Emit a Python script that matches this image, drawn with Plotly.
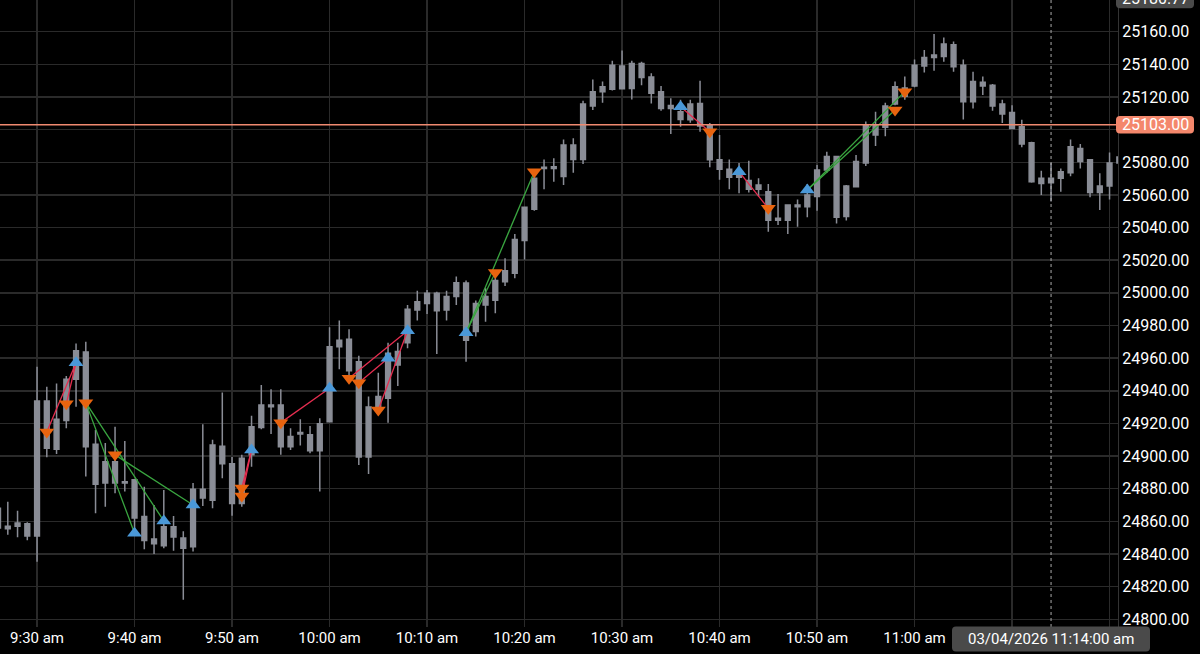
import pandas as pd
import plotly.graph_objects as go

# ---------------- data ----------------
times = pd.date_range("2026-03-04 09:26", "2026-03-04 11:21", freq="1min")

open_ = [24868, 24857, 24857, 24858.5, 24851, 24933.75, 24904.25, 24921.75, 24947, 24963.75,
         24907.25, 24883.5, 24896.5, 24884.25, 24885.5, 24863, 24849.25, 24845, 24856.75, 24849.75,
         24844.5, 24874.25, 24873, 24906, 24895.25, 24871, 24900.75, 24917.5, 24931.25, 24931.25,
         24905.75, 24914.5, 24913, 24903.25,
         24921, 24967, 24971.5, 24957.75, 24899.5, 24930.25, 24935.5, 24964, 24969.5, 24989.5,
         24993.5, 24999.75, 24989.5, 24997.75, 25006, 24976.25, 24992.5, 24995.5, 25006.75, 25012,
         25032, 25051.25, 25076.25, 25077.25, 25071.25, 25090.5, 25081.75, 25114.5, 25123.25, 25124.75,
         25139, 25125.25, 25140.5, 25132.25, 25123.25, 25113, 25111, 25106, 25116, 25102.75,
         25081.5, 25075.75, 25070.75, 25068.75, 25063.5, 25062, 25044.5, 25044.5, 25053.75, 25052.75,
         25059, 25075.25, 25083.5, 25046.75, 25065, 25079.5, 25102.75, 25101.5, 25115.75, 25125.5,
         25126.75, 25139, 25144.25, 25144.75, 25152, 25139.5, 25117, 25129, 25127.25, 25115.75,
         25110.5, 25101.75, 25092, 25067, 25070.25, 25070.25, 25073.5, 25088.5, 25081.5, 25061.5,
         25065.5, 25079.5]
high = [24873, 24872, 24866.5, 24859.5, 24954.75, 24942.5, 24944.5, 24949, 24969, 24970,
        24916, 24908, 24918, 24909.25, 24886, 24881.25, 24870, 24879.25, 24863.25, 24854,
        24883.5, 24919.5, 24910, 24939, 24899.5, 24900.75, 24924.75, 24943.5, 24941, 24941,
        24917, 24922.5, 24918.5, 24923.25,
        24979, 24983, 24977.75, 24961.5, 24936.5, 24951, 24969.5, 24969.5, 24992.5, 25001.25,
        25001.75, 25000.75, 25001.25, 25010, 25007.5, 24995.25, 25002.75, 25010.25, 25021.25, 25036,
        25052.5, 25074.25, 25081.75, 25082.5, 25094, 25094.75, 25117.75, 25130.75, 25129.5, 25142.25,
        25148.5, 25142.25, 25141.5, 25134.5, 25126.75, 25119.25, 25118.25, 25118.25, 25130, 25104,
        25096.75, 25081.75, 25079.5, 25081, 25070.25, 25066.75, 25060.5, 25053.75, 25057.25, 25066.75,
        25078.25, 25086.5, 25083.5, 25066, 25084.5, 25105, 25111, 25116.5, 25129.5, 25132.5,
        25143, 25148.75, 25158.5, 25156.5, 25154, 25143, 25135.5, 25132.5, 25128, 25118.25,
        25115, 25106, 25092.5, 25074.75, 25079.5, 25076.25, 25094, 25091.25, 25081.75, 25073.25,
        25086, 25087.5]
low = [24853, 24851.75, 24850.25, 24848.5, 24835.25, 24899.25, 24901.25, 24917, 24930.25, 24887.5,
       24865, 24869, 24877.25, 24878.25, 24854.75, 24843, 24840, 24843.5, 24842, 24812,
       24841.5, 24869.5, 24868, 24886.5, 24863.5, 24869, 24893.5, 24916.5, 24913.5, 24900.75,
       24903.75, 24906.5, 24901.75, 24878.25,
       24921, 24953.25, 24947.75, 24894.5, 24889, 24926.25, 24920.5, 24943, 24966, 24983,
       24987, 24962.5, 24983, 24992.5, 24957.75, 24973.25, 24982.25, 24987.5, 25004.25, 25009,
       25020.5, 25050.25, 25063.5, 25068, 25066, 25073.5, 25079, 25112, 25116.5, 25124,
       25124.75, 25118.5, 25127.25, 25116, 25111.5, 25097.25, 25101.75, 25104.25, 25098.75, 25077,
       25069.25, 25063.5, 25061, 25061.5, 25059, 25037.5, 25041.5, 25036, 25040.5, 25046.25,
       25050.25, 25073.5, 25042.5, 25044.25, 25065, 25077.75, 25090, 25096, 25115, 25118.25,
       25126, 25135, 25136, 25141.5, 25135.5, 25106.25, 25113, 25121.25, 25111.5, 25104,
       25100.25, 25089.25, 25067.5, 25060, 25056, 25062, 25071.5, 25076.25, 25058.5, 25050.75,
       25057.25, 25076.5]
close = [24856, 24855.5, 24859, 24851, 24933.75, 24904.75, 24922.5, 24947, 24964.5, 24905.75,
         24882.75, 24896.5, 24883.5, 24883.5, 24862, 24848.25, 24846.25, 24856.75, 24850.5, 24843.5,
         24879.75, 24879.75, 24906.75, 24895.25, 24871, 24898.75, 24918, 24931.25, 24930.25, 24905.75,
         24912, 24913.5, 24903.25, 24919.75,
         24967, 24971, 24952.25, 24899.5, 24930, 24936.5, 24963, 24955.75, 24990, 24994.5,
         24999.75, 24989, 24997.75, 25006.25, 24971, 24993.5, 24997.75, 25007.5, 25013.5, 25032.75,
         25052.5, 25070.25, 25077, 25076.25, 25090.5, 25081.75, 25115.75, 25123.25, 25126.25, 25139.5,
         25125, 25140.5, 25132, 25122.25, 25113, 25114.75, 25106.25, 25115.75, 25102.25, 25081.5,
         25075.75, 25070.75, 25073.25, 25063.5, 25066, 25044.5, 25045.75, 25053.75, 25052.75, 25060,
         25075.25, 25083.5, 25046.25, 25065.5, 25080.5, 25102.75, 25096.75, 25114.5, 25126.25, 25120.5,
         25139.5, 25144.25, 25145.75, 25152.5, 25138.5, 25117, 25129.5, 25126.75, 25114.5, 25109.5,
         25100.75, 25091.25, 25068, 25070.25, 25067.5, 25074.25, 25089.5, 25080.5, 25061.5, 25065.5,
         25079.5, 25083.25]

# signal markers
sell_times = ["09:31", "09:33", "09:35", "09:38", "09:51", "09:51", "09:55", "10:02", "10:03",
              "10:05", "10:17", "10:21", "10:39", "10:45", "10:58", "10:59"]
sell_prices = [24914.75, 24932, 24932.75, 24900.75, 24880.5, 24875.5, 24920.5, 24947.75, 24945,
               24928.25, 25012.5, 25074.25, 25098.75, 25051.75, 25112, 25123.25]
buy_times = ["09:34", "09:40", "09:43", "09:46", "09:52", "10:00", "10:06", "10:08", "10:14",
             "10:36", "10:42", "10:49"]
buy_prices = [24957.25, 24852.75, 24860.25, 24870, 24903.75, 24941.5, 24960, 24976.75, 24975.5,
              25114, 25074.25, 25063]

# trades: entry -> exit, result
trade_entry_times = ["09:31", "09:33", "09:35", "09:35", "09:38", "09:51", "09:51", "09:55", "10:02",
                     "10:03", "10:05", "10:14", "10:14", "10:36", "10:42", "10:49", "10:49"]
trade_entry_prices = [24914.75, 24932, 24932.75, 24932.75, 24900.75, 24880.5, 24875.5, 24920.5,
                      24947.75, 24945, 24928.25, 24975.5, 24975.5, 25114, 25074.25, 25063, 25063]
trade_exit_times = ["09:34", "09:34", "09:40", "09:43", "09:46", "09:52", "09:52", "10:00", "10:08",
                    "10:06", "10:08", "10:17", "10:21", "10:39", "10:45", "10:58", "10:59"]
trade_exit_prices = [24957.25, 24957.25, 24852.75, 24860.25, 24870, 24903.75, 24903.75, 24941.5,
                     24976.75, 24960, 24976.75, 25012.5, 25074.25, 25098.75, 25051.75, 25112, 25123.25]
trade_result = ["loss", "loss", "win", "win", "win", "loss", "loss", "loss", "loss",
                "loss", "loss", "win", "win", "loss", "loss", "win", "win"]

last_price = 25103.00
crosshair_time = "2026-03-04 11:14"
crosshair_label = "03/04/2026 11:14:00 am"
crosshair_price_label = "25180.77"

# x grid every 10 minutes; labels under the crosshair tag are hidden (as in the original)
x_tick_times = ["09:30", "09:40", "09:50", "10:00", "10:10", "10:20", "10:30", "10:40", "10:50",
                "11:00", "11:10", "11:20"]
x_tick_labels = ["9:30 am", "9:40 am", "9:50 am", "10:00 am", "10:10 am", "10:20 am", "10:30 am",
                 "10:40 am", "10:50 am", "11:00 am", "", ""]
y_tick_values = list(range(24800, 25181, 20))
y_hidden_label = 25100  # covered by the last-price tag

# ---------------- styling ----------------
DAY = "2026-03-04 "
CANDLE = "#8a8d96"
BLUE = "#4a98d8"
ORANGE = "#e8640f"
RED = "#e62e50"
GREEN = "#3aa640"
GRID = "#2a2a2a"
FONT = "Roboto"


def ts(t):
    return pd.Timestamp(DAY + t)


fig = go.Figure()
fig.add_trace(go.Candlestick(
    x=times, open=open_, high=high, low=low, close=close,
    increasing=dict(line=dict(color=CANDLE, width=1.5), fillcolor=CANDLE),
    decreasing=dict(line=dict(color=CANDLE, width=1.5), fillcolor=CANDLE),
    hoverinfo="skip", showlegend=False,
))

for res, col in (("loss", RED), ("win", GREEN)):
    xs, ys = [], []
    for et, ep, xt, xp, r in zip(trade_entry_times, trade_entry_prices, trade_exit_times,
                                 trade_exit_prices, trade_result):
        if r == res:
            xs += [ts(et), ts(xt), None]
            ys += [ep, xp, None]
    fig.add_trace(go.Scatter(x=xs, y=ys, mode="lines", line=dict(color=col, width=1.3),
                             hoverinfo="skip", showlegend=False))

fig.add_trace(go.Scatter(x=[ts(t) for t in sell_times], y=sell_prices, mode="markers",
                         marker=dict(symbol="triangle-down", size=13, color=ORANGE, line=dict(width=0)),
                         hoverinfo="skip", showlegend=False))
fig.add_trace(go.Scatter(x=[ts(t) for t in buy_times], y=buy_prices, mode="markers",
                         marker=dict(symbol="triangle-up", size=13, color=BLUE, line=dict(width=0)),
                         hoverinfo="skip", showlegend=False))

W, H = 1200, 654
ML, MR, MT, MB = 0, 82, 0, 27
PW, PH = W - ML - MR, H - MT - MB
Y_TOP, Y_BOT = 25179.4, 24795.3
PPU = (Y_TOP - Y_BOT) / PH  # price units per pixel


def rrect(x0, x1, y0, y1, rx, ry):
    return (f"M{x0 + rx},{y0} L{x1 - rx},{y0} Q{x1},{y0} {x1},{y0 + ry} "
            f"L{x1},{y1 - ry} Q{x1},{y1} {x1 - rx},{y1} L{x0 + rx},{y1} "
            f"Q{x0},{y1} {x0},{y1 - ry} L{x0},{y0 + ry} Q{x0},{y0} {x0 + rx},{y0} Z")


shapes = [
    dict(type="line", xref="paper", x0=0, x1=1, yref="y", y0=last_price, y1=last_price,
         line=dict(color="#f08a70", width=1.5), layer="above"),
    dict(type="line", xref="x", x0=pd.Timestamp(crosshair_time), x1=pd.Timestamp(crosshair_time),
         yref="paper", y0=0, y1=1, line=dict(color="#aaaaaa", width=1, dash="dot"), layer="above"),
    # last price tag
    dict(type="path", xref="paper", yref="y", layer="above", line=dict(width=0), fillcolor="#f4876c",
         path=rrect(1116 / PW, 1194 / PW, last_price - 8.8 * PPU, last_price + 8.8 * PPU,
                    4 / PW, 4 * PPU)),
    # crosshair price tag (top, mostly cut off)
    dict(type="path", xref="paper", yref="paper", layer="above", line=dict(width=0), fillcolor="#4a4a4a",
         path=rrect(1116 / PW, 1194 / PW, 1 - 8.3 / PH, 1 + 12 / PH, 4 / PW, 4 / PH)),
    # crosshair time tag
    dict(type="path", xref="paper", yref="paper", layer="above", line=dict(width=0), fillcolor="#4a4a4a",
         path=rrect(952 / PW, 1150 / PW, -24.5 / PH, 0.5 / PH, 4 / PW, 4 / PH)),
]

annotations = [
    dict(xref="paper", yref="y", x=1155 / PW, y=last_price, text=f"{last_price:.2f}", showarrow=False,
         xanchor="center", yanchor="middle", font=dict(family=FONT, size=16, color="#ffffff")),
    dict(xref="paper", yref="paper", x=1155 / PW, y=1 + 1 / PH, text=crosshair_price_label,
         showarrow=False, xanchor="center", yanchor="middle",
         font=dict(family=FONT, size=16, color="#ffffff")),
    dict(xref="paper", yref="paper", x=1051 / PW, y=-12 / PH, text=crosshair_label, showarrow=False,
         xanchor="center", yanchor="middle", font=dict(family=FONT, size=15, color="#ffffff")),
]

fig.update_layout(
    width=W, height=H,
    margin=dict(l=ML, r=MR, t=MT, b=MB),
    paper_bgcolor="#000000", plot_bgcolor="#000000",
    showlegend=False, hovermode=False,
    shapes=shapes, annotations=annotations,
    font=dict(family=FONT, color="#ffffff"),
    xaxis=dict(
        type="date",
        range=[pd.Timestamp(DAY + "09:26:12"), pd.Timestamp(DAY + "11:20:52")],
        tickvals=[ts(t) for t in x_tick_times], ticktext=x_tick_labels,
        tickfont=dict(family=FONT, size=15, color="#ffffff"),
        showgrid=True, gridcolor=GRID, gridwidth=1.5,
        zeroline=False, showline=False, ticks="",
        rangeslider=dict(visible=False), fixedrange=True,
    ),
    yaxis=dict(
        side="right", range=[Y_BOT, Y_TOP],
        tickvals=y_tick_values,
        ticktext=["" if v == y_hidden_label else f"{v:.2f}" for v in y_tick_values],
        tickfont=dict(family=FONT, size=16, color="#ffffff"),
        showgrid=True, gridcolor=GRID, gridwidth=1.5,
        zeroline=False, showline=True, linecolor="#333333", linewidth=1, ticks="",
        fixedrange=True,
    ),
)

fig.write_html(
    "out.html",
    config={"displayModeBar": False, "staticPlot": True},
    post_script="document.body.style.margin='0';document.body.style.overflow='hidden';"
                "document.body.style.background='#000';",
)
